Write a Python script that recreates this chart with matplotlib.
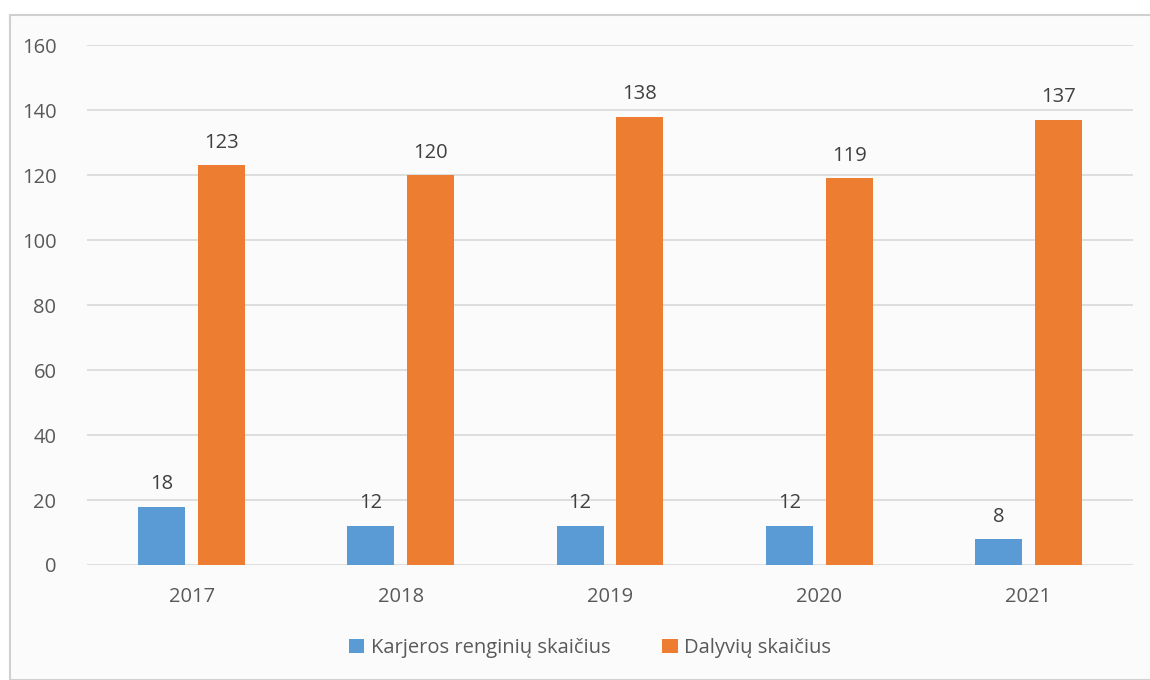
import numpy as np
import matplotlib.pyplot as plt
from matplotlib.patches import Rectangle

years = ['2017', '2018', '2019', '2020', '2021']
renginiai = [18, 12, 12, 12, 8]
dalyviai = [123, 120, 138, 119, 137]
series_names = ['Karjeros renginių skaičius', 'Dalyvių skaičius']

plt.rcParams['font.family'] = ['Open Sans', 'DejaVu Sans']
txt = '#595959'

W, H = 1150, 680
fig = plt.figure(figsize=(W / 100, H / 100), dpi=100)
fig.patch.set_facecolor('white')

# chart frame (behind the axes)
fig.patches.append(Rectangle((10 / W, 0), 1 - 10 / W + 0.01, 1 - 15 / H, transform=fig.transFigure,
                             facecolor='#fbfbfb', edgecolor='#d0d0d0', linewidth=1.5, zorder=-10))

ax = fig.add_axes([87 / W, 1 - 565 / H, (1133 - 87) / W, (565 - 45) / H])
ax.set_facecolor('none')
ax.set_zorder(1)

x = np.arange(len(years))
bw = 0.225
b1 = ax.bar(x - 0.143, renginiai, bw, color='#5b9bd5', zorder=3)
b2 = ax.bar(x + 0.143, dalyviai, bw, color='#ed7d31', zorder=3)

for bars in (b1, b2):
    for r in bars:
        ax.annotate(f'{int(r.get_height())}', (r.get_x() + r.get_width() / 2, r.get_height()),
                    xytext=(0, 9), textcoords='offset points', ha='center', va='bottom',
                    fontsize=14.5, color='#404040')

ax.set_xlim(-0.5, len(years) - 0.5)
ax.set_ylim(0, 160)
ax.set_yticks(range(0, 161, 20))
ax.set_xticks(x)
ax.set_xticklabels(years)
ax.grid(axis='y', color='#d9d9d9', linewidth=1.2, zorder=0)
ax.set_axisbelow(True)
for s in ax.spines.values():
    s.set_visible(False)
ax.tick_params(length=0, labelsize=14.5, labelcolor=txt)
ax.tick_params(axis='x', pad=16)
ax.tick_params(axis='y', pad=22)

fig.legend([b1, b2], series_names, loc='center', bbox_to_anchor=(590 / W, 1 - 648 / H), ncol=2,
           frameon=False, fontsize=14.5, labelcolor=txt, handlelength=0.75, handleheight=0.75,
           handletextpad=0.3, columnspacing=2.6)

fig.savefig('out.png', dpi=100)
